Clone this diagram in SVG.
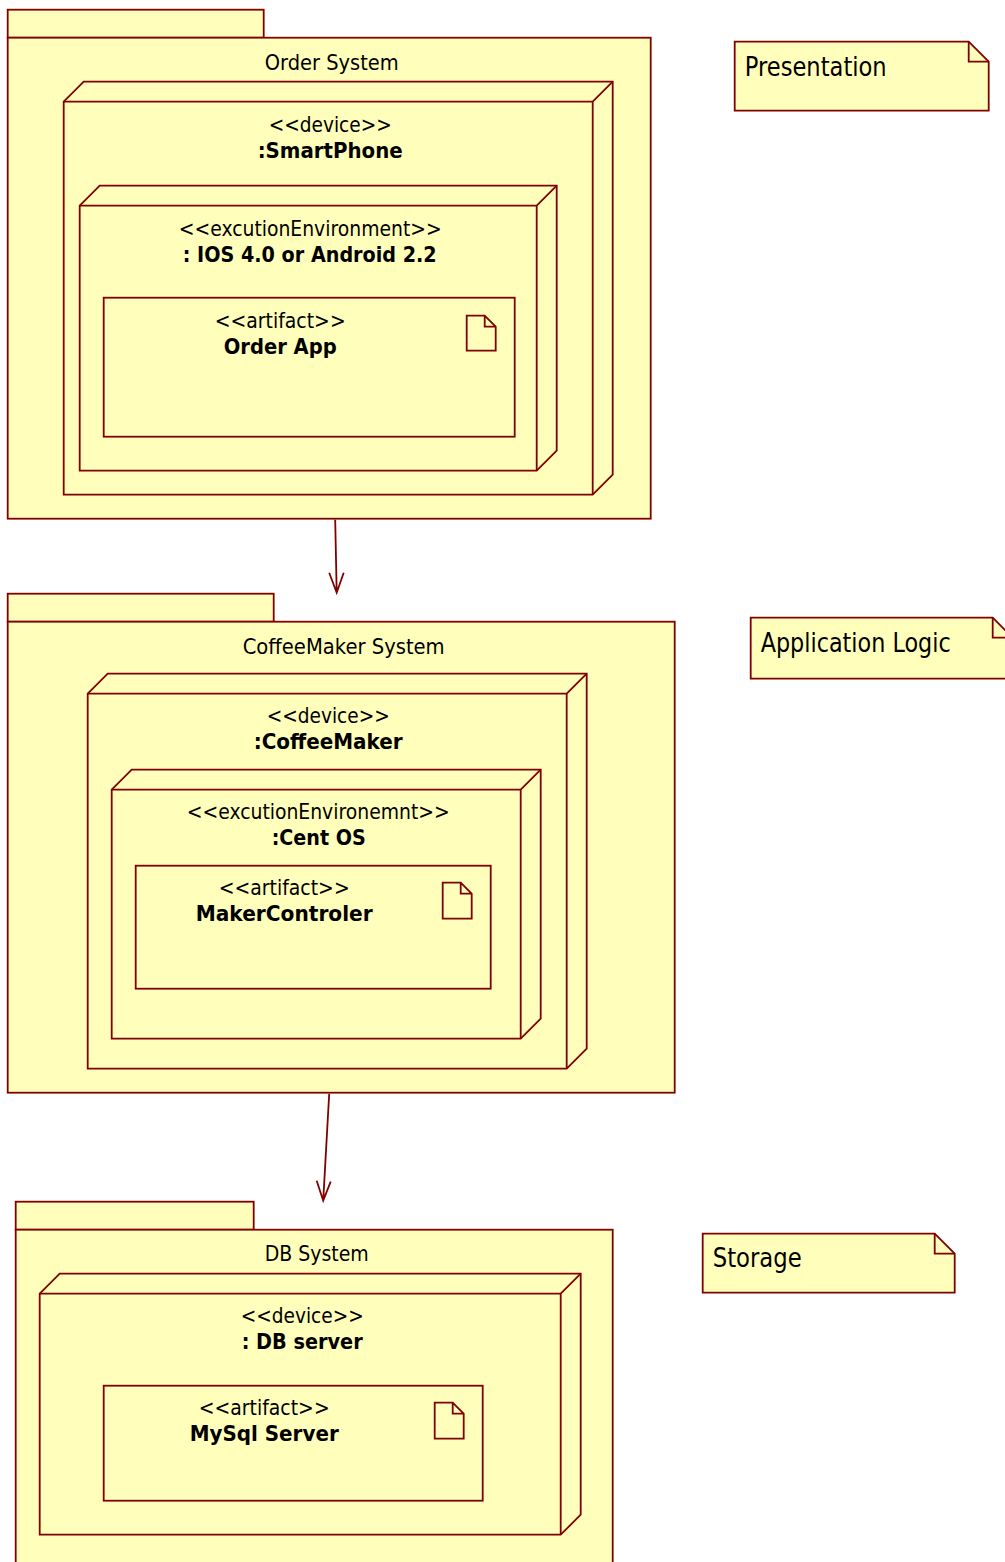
<svg xmlns="http://www.w3.org/2000/svg" width="1005" height="1562" viewBox="0 0 1005 1562">
<style>
.s{fill:#FFFFBB;stroke:#800000;stroke-width:1.8;stroke-linejoin:miter}
.l{fill:none;stroke:#800000;stroke-width:1.8}
text{font-family:"DejaVu Sans","Liberation Sans",sans-serif;fill:#000;font-size:22px}
.b{font-weight:bold}
.n{font-size:26px}
</style>
<rect width="1005" height="1562" fill="#fff"/>
<g transform="translate(-0.3 -0.3)">
<g id="pkg-order">
<rect class="s" x="8" y="10" width="256" height="28"/><rect class="s" x="8" y="38" width="643" height="481"/>
<text x="265" y="70" textLength="134" lengthAdjust="spacingAndGlyphs">Order System</text>
</g>
<g id="node-smartphone">
<path class="s" d="M64 102L84 82H613V475L593 495H64Z"/><path class="l" d="M64 102H593V495M593 102L613 82"/>
<text x="269" y="132" textLength="123" lengthAdjust="spacingAndGlyphs">&lt;&lt;device&gt;&gt;</text>
<text class="b" x="258" y="158" textLength="145" lengthAdjust="spacingAndGlyphs">:SmartPhone</text>
</g>
<g id="node-env1">
<path class="s" d="M80 206L100 186H557V451L537 471H80Z"/><path class="l" d="M80 206H537V471M537 206L557 186"/>
<text x="179" y="236" textLength="263" lengthAdjust="spacingAndGlyphs">&lt;&lt;excutionEnvironment&gt;&gt;</text>
<text class="b" x="183" y="262" textLength="254" lengthAdjust="spacingAndGlyphs">: IOS 4.0 or Android 2.2</text>
</g>
<g id="artifact-orderapp">
<rect class="s" x="104" y="298" width="411" height="139"/>
<path class="l" d="M467 316H485L496 327V351H467ZM485 316V327H496"/>
<text x="215" y="328" textLength="131" lengthAdjust="spacingAndGlyphs">&lt;&lt;artifact&gt;&gt;</text>
<text class="b" x="224" y="354" textLength="113" lengthAdjust="spacingAndGlyphs">Order App</text>
</g>
<g id="note-presentation">
<path class="s" d="M735 42H969L989 62V111H735Z"/><path class="l" d="M969 42V62H989"/>
<text class="n" x="745" y="76" textLength="142" lengthAdjust="spacingAndGlyphs">Presentation</text>
</g>
<g id="pkg-coffee">
<rect class="s" x="8" y="594" width="266" height="28"/><rect class="s" x="8" y="622" width="667" height="471"/>
<text x="243" y="654" textLength="202" lengthAdjust="spacingAndGlyphs">CoffeeMaker System</text>
</g>
<g id="node-coffeemaker">
<path class="s" d="M88 694L108 674H587V1049L567 1069H88Z"/><path class="l" d="M88 694H567V1069M567 694L587 674"/>
<text x="267" y="723" textLength="123" lengthAdjust="spacingAndGlyphs">&lt;&lt;device&gt;&gt;</text>
<text class="b" x="254" y="749" textLength="149" lengthAdjust="spacingAndGlyphs">:CoffeeMaker</text>
</g>
<g id="node-env2">
<path class="s" d="M112 790L132 770H541V1019L521 1039H112Z"/><path class="l" d="M112 790H521V1039M521 790L541 770"/>
<text x="187" y="819" textLength="263" lengthAdjust="spacingAndGlyphs">&lt;&lt;excutionEnvironemnt&gt;&gt;</text>
<text class="b" x="272" y="845" textLength="94" lengthAdjust="spacingAndGlyphs">:Cent OS</text>
</g>
<g id="artifact-maker">
<rect class="s" x="136" y="866" width="355" height="123"/>
<path class="l" d="M443 883H461L472 894V919H443ZM461 883V894H472"/>
<text x="219" y="895" textLength="131" lengthAdjust="spacingAndGlyphs">&lt;&lt;artifact&gt;&gt;</text>
<text class="b" x="196" y="921" textLength="177" lengthAdjust="spacingAndGlyphs">MakerControler</text>
</g>
<g id="note-logic">
<path class="s" d="M751 618H993L1013 638V679H751Z"/><path class="l" d="M993 618V638H1013"/>
<text class="n" x="761" y="652" textLength="190" lengthAdjust="spacingAndGlyphs">Application Logic</text>
</g>
<g id="pkg-db">
<rect class="s" x="16" y="1202" width="238" height="28"/><rect class="s" x="16" y="1230" width="597" height="360"/>
<text x="265" y="1261" textLength="104" lengthAdjust="spacingAndGlyphs">DB System</text>
</g>
<g id="node-dbserver">
<path class="s" d="M40 1294L60 1274H581V1515L561 1535H40Z"/><path class="l" d="M40 1294H561V1535M561 1294L581 1274"/>
<text x="241" y="1323" textLength="123" lengthAdjust="spacingAndGlyphs">&lt;&lt;device&gt;&gt;</text>
<text class="b" x="242" y="1349" textLength="121" lengthAdjust="spacingAndGlyphs">: DB server</text>
</g>
<g id="artifact-mysql">
<rect class="s" x="104" y="1386" width="379" height="115"/>
<path class="l" d="M435 1403H453L464 1414V1439H435ZM453 1403V1414H464"/>
<text x="199" y="1415" textLength="131" lengthAdjust="spacingAndGlyphs">&lt;&lt;artifact&gt;&gt;</text>
<text class="b" x="190" y="1441" textLength="149" lengthAdjust="spacingAndGlyphs">MySql Server</text>
</g>
<g id="note-storage">
<path class="s" d="M703 1234H935L955 1254V1293H703Z"/><path class="l" d="M935 1234V1254H955"/>
<text class="n" x="713" y="1267" textLength="89" lengthAdjust="spacingAndGlyphs">Storage</text>
</g>
<g id="connectors">
<path class="l" d="M335.500 520L337 593M329.500 573L337 593L344 573"/>
<path class="l" d="M329.500 1094L323.500 1201M317 1181L323.500 1201L331 1182"/>
</g>
</g>
</svg>
